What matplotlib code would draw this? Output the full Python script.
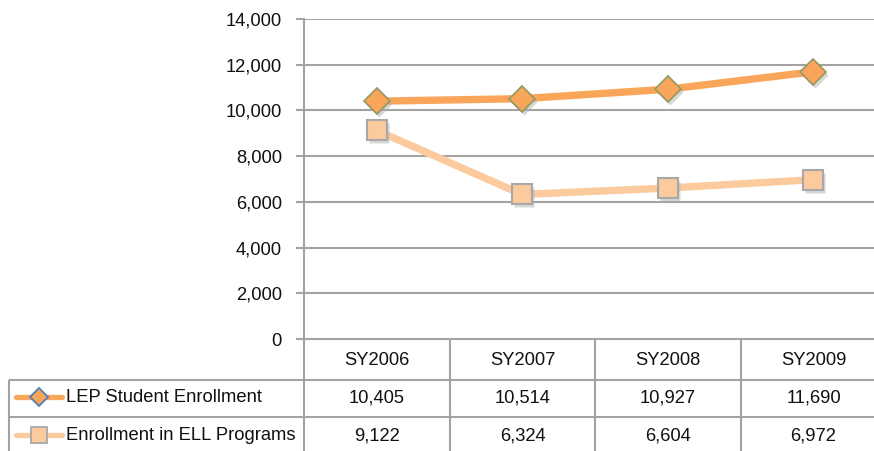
import numpy as np
import matplotlib
matplotlib.use("Agg")
import matplotlib.pyplot as plt
from matplotlib import transforms

plt.rcParams['font.family'] = ['Liberation Sans', 'DejaVu Sans']

# data
years = ['SY2006', 'SY2007', 'SY2008', 'SY2009']
lep = [10405, 10514, 10927, 11690]
ell = [9122, 6324, 6604, 6972]
series_names = ['LEP Student Enrollment', 'Enrollment in ELL Programs']
yticks = np.arange(0, 14001, 2000)

W, H = 874, 451
GRID = '#a3a3a3'
LEP_C = '#f9a65a'
ELL_C = '#fbca9d'
TXT = '#111111'
FS = 13.2

fig = plt.figure(figsize=(W / 100, H / 100), dpi=100)

# plot area in pixels (right side runs off the picture like the source)
x0, x1 = 304, 886
y_top, y_bot = 19, 339
ax = fig.add_axes([x0 / W, 1 - y_bot / H, (x1 - x0) / W, (y_bot - y_top) / H])
ax.set_xlim(-0.5, len(years) - 0.5)
ax.set_ylim(0, 14000)
ax.set_yticks(yticks)
ax.set_yticklabels([f'{v:,}' for v in yticks], fontsize=FS, color=TXT)
ax.set_xticks([])
for s in ['top', 'right', 'bottom']:
    ax.spines[s].set_visible(False)
ax.spines['left'].set_color(GRID)
ax.spines['left'].set_linewidth(1.5)
ax.tick_params(axis='y', direction='out', length=6, width=1.5, color=GRID, pad=10)
ax.yaxis.grid(True, color=GRID, linewidth=1.5)
ax.set_axisbelow(True)

xs = np.arange(len(years))
ax.plot(xs, lep, color=LEP_C, lw=5.3, solid_capstyle='butt', zorder=3)
ax.plot(xs, ell, color=ELL_C, lw=5.3, solid_capstyle='butt', zorder=3)

# soft drop shadow behind the markers
shadow = ax.transData + transforms.ScaledTranslation(2 / 100, -3 / 100, fig.dpi_scale_trans)
ax.plot(xs, lep, ls='none', marker='D', ms=13.5, mfc='#b0b0b0', mec='none',
        alpha=0.5, transform=shadow, zorder=4)
ax.plot(xs, ell, ls='none', marker='s', ms=15, mfc='#b0b0b0', mec='none',
        alpha=0.5, transform=shadow, zorder=4)
ax.plot(xs, lep, ls='none', marker='D', ms=13.5, mfc=LEP_C, mec='#999966',
        mew=1.3, zorder=5)
ax.plot(xs, ell, ls='none', marker='s', ms=15, mfc=ELL_C, mec='#a8a8a8',
        mew=1.5, zorder=5)

# data table below the plot, in pixel coordinates
tb = fig.add_axes([0, 0, 1, 1], zorder=-1)
tb.set_xlim(0, W)
tb.set_ylim(H, 0)
tb.axis('off')

col_edges = [304, 450, 595, 741, 886]
row_edges = [339, 380, 417, 456]
left = 9
kw = dict(color=GRID, lw=1.5, solid_capstyle='butt')
tb.plot([297, W], [row_edges[0]] * 2, **kw)
for yy in row_edges[1:3]:
    tb.plot([left, W], [yy, yy], **kw)
tb.plot([left, left], [row_edges[1], H], **kw)
for cx in col_edges[:4]:
    tb.plot([cx, cx], [row_edges[0], H], **kw)

centers = [(col_edges[i] + col_edges[i + 1]) / 2 for i in range(4)]
hdr_y = (row_edges[0] + row_edges[1]) / 2 + 1
for cx, yr in zip(centers, years):
    tb.text(cx, hdr_y, yr, ha='center', va='center', fontsize=FS, color=TXT)

row_y = [398, 436]
rows = [lep, ell]
for ry, vals in zip(row_y, rows):
    for cx, v in zip(centers, vals):
        tb.text(cx, ry, f'{v:,}', ha='center', va='center', fontsize=FS, color=TXT)

# legend keys inside the table
tb.plot([16, 62], [row_y[0] - 1] * 2, color=LEP_C, lw=3.8, solid_capstyle='round')
tb.plot([39], [row_y[0] - 1], marker='D', ms=9, mfc=LEP_C, mec='#4f7fb5', mew=1.3)
tb.plot([16, 62], [row_y[1] - 1] * 2, color=ELL_C, lw=3.8, solid_capstyle='round')
tb.plot([39], [row_y[1] - 1], marker='s', ms=11, mfc=ELL_C, mec='#a8a8a8', mew=1.3)
for ry, name in zip(row_y, series_names):
    tb.text(66, ry, name, ha='left', va='center', fontsize=FS, color=TXT)

fig.savefig('out.png', dpi=100)
